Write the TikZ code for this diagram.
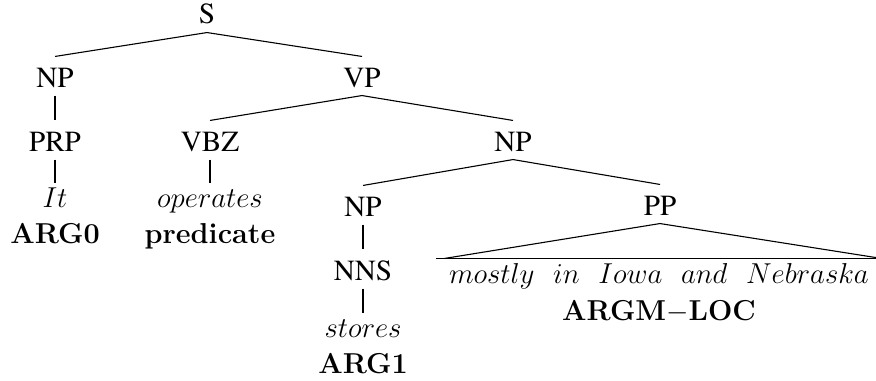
\documentclass[tikz,border=0pt]{standalone}
\usepackage[no-math]{fontspec}
\newfontfamily\catfont{texgyretermes-regular.otf}
\begin{document}
\begin{tikzpicture}[x=0.5pt, y=-0.5pt, line width=0.55pt,
  cat/.style={font=\catfont\fontsize{14.6}{17}\selectfont, anchor=base, text height=11pt, text depth=0pt, inner xsep=1pt, inner ysep=4pt},
  word/.style={font=\fontsize{14.4}{17}\selectfont, anchor=base, text height=10pt, text depth=0pt, inner xsep=1pt, inner ysep=1.5pt},
  role/.style={font=\fontsize{14.4}{17}\selectfont\bfseries, anchor=base, inner sep=0pt}]
\useasboundingbox (0,0) rectangle (876,380);
% categories
\node[cat] (s) at (207,24) {S};
\node[cat] (np) at (55,87) {NP};
\node[cat] (vp) at (362,87) {VP};
\node[cat] (prp) at (55,151) {PRP};
\node[cat] (vbz) at (210,151) {VBZ};
\node[cat] (npobj) at (513,151) {NP};
\node[cat] (nphead) at (363,216) {NP};
\node[cat] (pp) at (660,215) {PP};
\node[cat] (nns) at (363,280) {NNS};
% words and roles
\node[word] (it) at (55,207) {$It$};
\node[word] (operates) at (210,207) {$operates$};
\node[word] (stores) at (363,337) {$stores$};
\node[word, text height=9.5pt, inner ysep=2.5pt, inner xsep=6pt] (phrase) at (659,283) {$mostly\ \ in\ \ Iowa\ \ and\ \ Nebraska$};
\node[role] (arg0) at (55,243) {ARG0};
\node[role] (pred) at (210,243) {predicate};
\node[role] (arg1) at (363,373) {ARG1};
\node[role] (argm) at (659,320) {ARGM$-$LOC};
% branches
\draw (np.north) -- (s.south) -- (vp.north);
\draw (np.south) -- (prp.north);
\draw (vbz.north) -- (vp.south) -- (npobj.north);
\draw (prp.south) -- (it.north);
\draw (vbz.south) -- (operates.north);
\draw (nphead.north) -- (npobj.south) -- (pp.north);
\draw (nphead.south) -- (nns.north);
\draw (nns.south) -- (stores.north);
\draw ([xshift=4pt]phrase.north west) -- (pp.south) -- (phrase.north east);
\draw[line width=0.9pt] (phrase.north west) -- (phrase.north east);
\end{tikzpicture}
\end{document}
